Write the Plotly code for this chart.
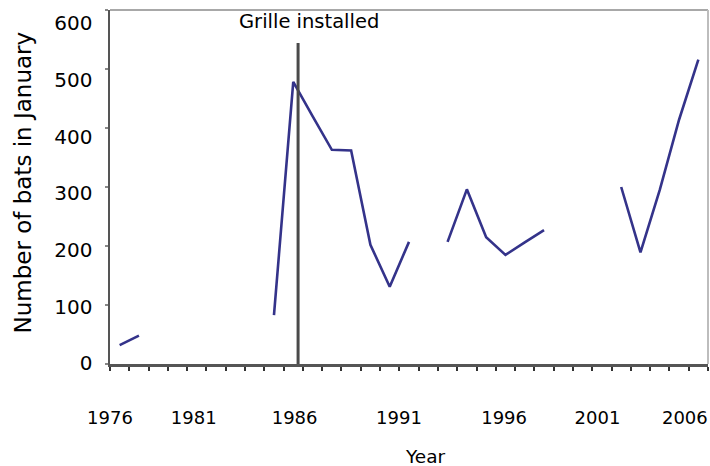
import plotly.graph_objects as go

# ---- data ----
years = list(range(1977, 2008))
bats = [32, 48, None, None, None, None, None, None, 83, 478, 420, 363, 362,
        202, 131, 207, None, 207, 296, 215, 185, 206, 227, None, None, None,
        300, 189, 295, 414, 516]
grille_year = 1986.25
grille_top = 544
x_tick_labels = ["1976", "1981", "1986", "1991", "1996", "2001", "2006"]
y_tick_labels = ["0", "100", "200", "300", "400", "500", "600"]

# where the original figure placed its (hand-set) tick labels, in axis units
x_label_pos = [1976.5, 1980.84, 1986.07, 1991.48, 1996.93, 2001.77, 2006.3]
y_label_pos = [1.2, 97.2, 193.3, 289.4, 385.4, 481.5, 577.5]

FONT = "DejaVu Sans, Verdana, sans-serif"
LINE = "#34338a"
AXIS = "#555555"

fig = go.Figure()
fig.add_trace(go.Scatter(
    x=years, y=bats, mode="lines", connectgaps=False,
    line=dict(color=LINE, width=2.6), hoverinfo="skip", showlegend=False))

fig.update_layout(
    width=710, height=466,
    margin=dict(l=110, r=2, t=10, b=102, autoexpand=False),
    paper_bgcolor="white", plot_bgcolor="white",
    font=dict(family=FONT, size=19, color="black"),
    showlegend=False,
    xaxis=dict(
        range=[1976.5, 2007.5], showgrid=False, zeroline=False,
        automargin=False,
        showline=True, linecolor=AXIS, linewidth=2.5,
        tickmode="array", tickvals=x_label_pos, ticktext=x_tick_labels,
        ticks="", ticklabelstandoff=36, ticklabeloverflow="allow",
        tickfont=dict(size=18),
        minor=dict(ticks="outside", tick0=1976.5, dtick=1, ticklen=4,
                   tickcolor="#333333", tickwidth=2, showgrid=False),
    ),
    yaxis=dict(
        range=[0, 600], showgrid=False, zeroline=False,
        automargin=False,
        showline=True, linecolor=AXIS, linewidth=2.5,
        tickmode="array", tickvals=y_label_pos, ticktext=y_tick_labels,
        ticks="", ticklabelstandoff=11, ticklabeloverflow="allow",
        tickfont=dict(size=20),
        minor=dict(ticks="outside", tick0=0, dtick=100, ticklen=3,
                   tickcolor="#888888", tickwidth=1.5, showgrid=False),
    ),
    shapes=[
        # light frame top & right
        dict(type="line", xref="paper", yref="paper", x0=0, x1=1, y0=1, y1=1,
             line=dict(color="#a8a8a8", width=2)),
        dict(type="line", xref="paper", yref="paper", x0=1, x1=1, y0=0, y1=1,
             line=dict(color="#bdbdbd", width=2)),
        # grille installation marker
        dict(type="line", xref="x", yref="y", x0=grille_year, x1=grille_year,
             y0=0, y1=grille_top, line=dict(color="#4a4a4a", width=3)),
    ],
    annotations=[
        dict(text="Grille installed", xref="x", yref="y", x=1986.82, y=580,
             showarrow=False, font=dict(size=19.5), xanchor="center",
             yanchor="middle"),
        dict(text="Year", xref="paper", yref="paper",
             x=0.5268, y=-0.2627, showarrow=False,
             font=dict(size=18.5), xanchor="center", yanchor="middle"),
        dict(text="Number of bats in January", xref="paper", yref="paper",
             x=(23 - 110) / 598, y=0.5127, showarrow=False, textangle=-90,
             font=dict(size=23), xanchor="center", yanchor="middle"),
    ],
)

fig.write_html(
    "out.html",
    config={"displayModeBar": False, "staticPlot": True},
    post_script="document.body.style.margin='0';"
                "document.body.style.overflow='hidden';")
